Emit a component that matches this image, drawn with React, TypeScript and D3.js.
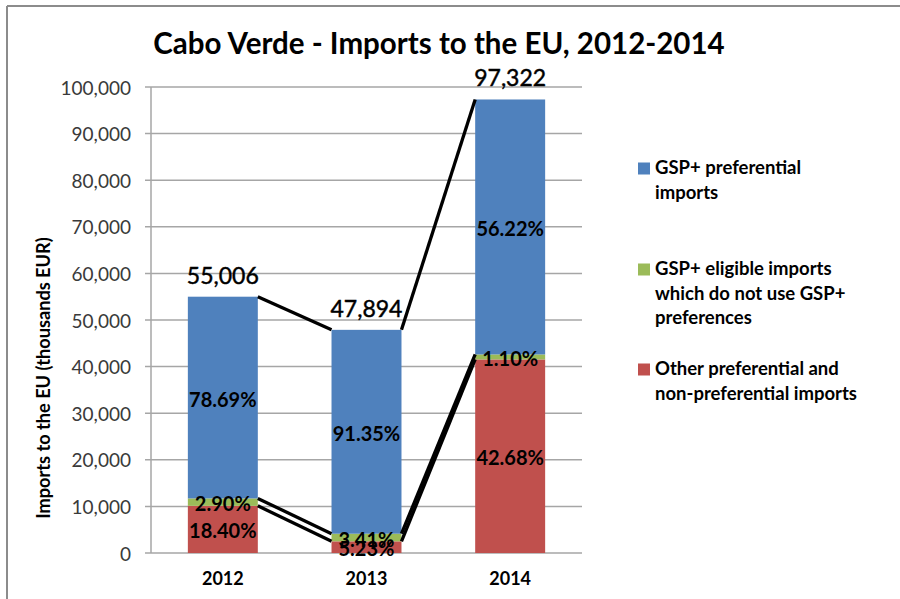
import React from "react";
import * as d3 from "d3";

const years = ["2012", "2013", "2014"];
const totals = [55006, 47894, 97322];
// shares (%) of each series in the yearly total
const gspPreferential = [78.69, 91.35, 56.22];
const gspEligibleUnused = [2.9, 3.41, 1.1];
const otherImports = [18.4, 5.23, 42.68];
const yTicks = [0, 10000, 20000, 30000, 40000, 50000, 60000, 70000, 80000, 90000, 100000];

const seriesNames = [
  ["Other preferential and", "non-preferential imports"],
  ["GSP+ eligible imports", "which do not use GSP+", "preferences"],
  ["GSP+ preferential", "imports"],
];
const seriesColors = ["#C0504D", "#9BBB59", "#4F81BD"];

const FONT = "Lato, 'Open Sans', sans-serif";

export default function App() {
  const W = 900;
  const H = 599;
  const plot = { left: 151, right: 582, top: 87, bottom: 553 };

  const x = d3
    .scaleBand<string>()
    .domain(years)
    .range([plot.left, plot.right])
    .paddingInner(0.513)
    .paddingOuter(0.2565);
  const y = d3.scaleLinear().domain([0, 100000]).range([plot.bottom, plot.top]);
  const bw = x.bandwidth();
  const fmt = d3.format(",");

  // stacked order bottom -> top: other, eligible, preferential
  const shares = [otherImports, gspEligibleUnused, gspPreferential];
  const rows = years.map((yr, i) => {
    const o: any = { year: yr };
    shares.forEach((s, k) => (o["s" + k] = (totals[i] * s[i]) / 100));
    return o;
  });
  const stack = d3.stack<any>().keys(["s0", "s1", "s2"]);
  const stacked = stack(rows);

  const legendItems = [
    { name: seriesNames[2], color: seriesColors[2], y: 174 },
    { name: seriesNames[1], color: seriesColors[1], y: 275 },
    { name: seriesNames[0], color: seriesColors[0], y: 375 },
  ];

  return (
    <svg
      width={W}
      height={H}
      style={{ position: "absolute", left: 0, top: 0, background: "#fff" }}
      fontFamily={FONT}
    >
      {/* frame */}
      <line x1={7} x2={900} y1={6} y2={6} stroke="#8c8c8c" strokeWidth={2} />
      <line x1={7} x2={7} y1={6} y2={599} stroke="#8c8c8c" strokeWidth={2} />

      {/* title */}
      <text
        x={439}
        y={54}
        textAnchor="middle"
        fontSize={29.5}
        fontWeight="bold"
        fill="#000"
      >
        Cabo Verde - Imports to the EU, 2012-2014
      </text>

      {/* gridlines & y ticks */}
      {yTicks.map((t) => (
        <g key={t}>
          <line
            x1={plot.left - 6}
            x2={plot.right}
            y1={y(t)}
            y2={y(t)}
            stroke="#a6a6a6"
            strokeWidth={1.5}
          />
          <text
            x={131}
            y={y(t)}
            textAnchor="end"
            dominantBaseline="central"
            fontSize={19}
            fill="#3a3a3a"
          >
            {fmt(t)}
          </text>
        </g>
      ))}
      <line
        x1={plot.left}
        x2={plot.left}
        y1={plot.top}
        y2={plot.bottom}
        stroke="#a6a6a6"
        strokeWidth={1.5}
      />

      {/* y-axis title */}
      <text
        transform={`translate(43, ${378}) rotate(-90)`}
        textAnchor="middle"
        dominantBaseline="central"
        fontSize={18.2}
        fontWeight="bold"
        fill="#000"
      >
        Imports to the EU (thousands EUR)
      </text>

      {/* bars */}
      {stacked.map((layer, k) => (
        <g key={layer.key} fill={seriesColors[k]}>
          {layer.map((d, i) => (
            <rect
              key={i}
              x={x(years[i])!}
              y={y(d[1])}
              width={bw}
              height={y(d[0]) - y(d[1])}
            />
          ))}
        </g>
      ))}

      {/* series lines */}
      {stacked.map((layer, k) => (
        <g key={"sl" + k}>
          {years.slice(0, -1).map((yr, i) => (
            <line
              key={i}
              x1={x(yr)! + bw}
              y1={y(layer[i][1])}
              x2={x(years[i + 1])!}
              y2={y(layer[i + 1][1])}
              stroke="#000"
              strokeWidth={3.3}
            />
          ))}
        </g>
      ))}

      {/* segment labels */}
      {stacked.map((layer, k) => (
        <g key={"lb" + k}>
          {layer.map((d, i) => (
            <text
              key={i}
              x={x(years[i])! + bw / 2}
              y={(y(d[0]) + y(d[1])) / 2 + 1}
              textAnchor="middle"
              dominantBaseline="central"
              fontSize={20}
              fontWeight="bold"
              fill="#000"
            >
              {shares[k][i].toFixed(2) + "%"}
            </text>
          ))}
        </g>
      ))}

      {/* totals */}
      {years.map((yr, i) => (
        <text
          key={yr}
          x={x(yr)! + bw / 2}
          y={y(totals[i]) - 22}
          textAnchor="middle"
          dominantBaseline="central"
          fontSize={23}
          fill="#000"
          stroke="#000"
          strokeWidth={0.45}
        >
          {fmt(totals[i])}
        </text>
      ))}

      {/* x labels */}
      {years.map((yr) => (
        <text
          key={"x" + yr}
          x={x(yr)! + bw / 2}
          y={585}
          textAnchor="middle"
          fontSize={18}
          fontWeight="bold"
          fill="#000"
        >
          {yr}
        </text>
      ))}

      {/* legend */}
      {legendItems.map((it, k) => (
        <g key={"lg" + k}>
          <rect x={638} y={it.y - 11.5} width={12} height={12} fill={it.color} />
          {it.name.map((ln, j) => (
            <text
              key={j}
              x={655}
              y={it.y + j * 24.7}
              fontSize={18.5}
              fontWeight="bold"
              fill="#000"
            >
              {ln}
            </text>
          ))}
        </g>
      ))}
    </svg>
  );
}
